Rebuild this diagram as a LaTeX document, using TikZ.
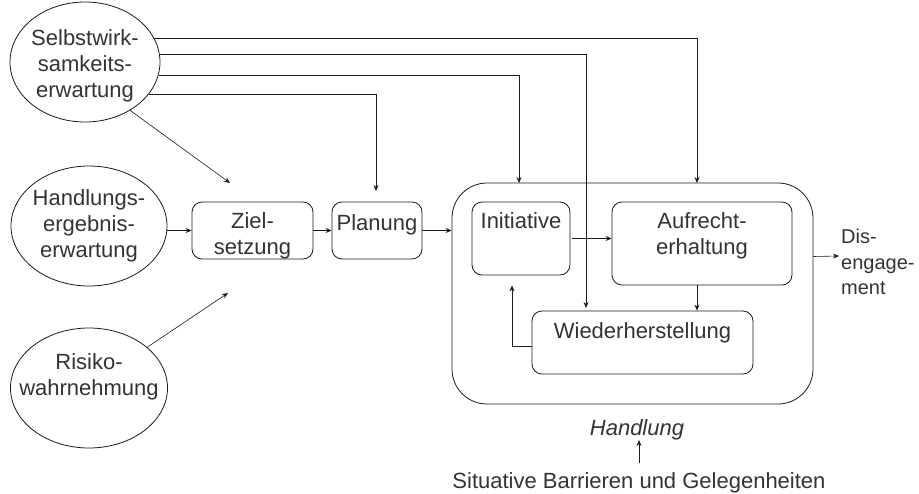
\documentclass[tikz,border=0pt]{standalone}
\usepackage{fontspec}
\setmainfont{Liberation Sans}
\usetikzlibrary{arrows.meta,calc,shapes.geometric}
\definecolor{txtc}{HTML}{333333}
\definecolor{linec}{HTML}{1A1A1A}
\tikzset{
  txt/.style={font=\fontsize{22}{25.8}\selectfont, text=txtc, align=center, inner sep=0pt},
  ell/.style={draw=linec, line width=0.8pt, ellipse, inner sep=0pt},
  rbox/.style={draw=linec, line width=0.8pt, rounded corners=10pt, inner sep=0pt},
  conn/.style={draw=linec, line width=0.6pt, -{Stealth[length=6pt,width=5pt]}},
  toplbl/.style={txt, anchor=north, yshift=-11pt}
}
\begin{document}
\begin{tikzpicture}[x=1pt,y=-1pt]
\useasboundingbox (0,0) rectangle (919,493);

% ellipses
\node[ell, minimum width=150pt, minimum height=120pt,
      label={[txt, yshift=-4pt]center:Selbstwirk-\\samkeits-\\erwartung}] (sw) at (85,62) {};
\node[ell, minimum width=156pt, minimum height=120pt,
      label={[txt]center:Handlungs-\\ergebnis-\\erwartung}] (he) at (89,226) {};
\node[ell, minimum width=157pt, minimum height=120pt,
      label={[txt, yshift=11pt]center:Risiko-\\wahrnehmung}] (ri) at (89,388) {};

% left boxes
\node[rbox, minimum width=121pt, minimum height=57pt,
      label={[txt, yshift=-5pt]center:Ziel-\\setzung}] (ziel) at (252.5,230.5) {};
\node[rbox, minimum width=90pt, minimum height=57pt,
      label={[toplbl, yshift=-2pt]north:Planung}] (plan) at (377,230.5) {};

% outer action box
\node[draw=linec, line width=0.8pt, rounded corners=35pt, inner sep=0pt,
      minimum width=361pt, minimum height=221pt] (act) at (632.5,293.5) {};
\node[txt, font=\fontsize{22}{25.8}\selectfont\itshape] (hand) at (637,430) {Handlung};
\node[txt] (sit) at (639,483) {Situative Barrieren und Gelegenheiten};

% inner boxes
\node[rbox, minimum width=98pt, minimum height=73pt,
      label={[toplbl]north:Initiative}] (init) at (521,238.5) {};
\node[rbox, minimum width=180pt, minimum height=83pt,
      label={[toplbl]north:Aufrecht-\\erhaltung}] (auf) at (702,243.5) {};
\node[rbox, minimum width=221pt, minimum height=63pt,
      label={[toplbl, yshift=-1pt]north:Wiederherstellung}] (wied) at (642.5,342.5) {};

\node[txt, font=\fontsize{20}{25.5}\selectfont, align=left, anchor=west] (dis) at (841,262) {Dis-\\engage-\\ment};

% free arrow ends
\coordinate (a1) at (697,183);
\coordinate (a2) at (586,308);
\coordinate (a3) at (519,183);
\coordinate (a4) at (376,191);
\coordinate (a5) at (230,183);
\coordinate (a6) at (228,293);

% connectors from Selbstwirksamkeit
\draw[conn] (sw.19) -| (a1);
\draw[conn] (sw.6) -| (a2);
\draw[conn] (sw.-10) -| (a3);
\draw[conn] (sw.-27) -| (a4);
\draw[conn] (sw.-47) -- (a5);
\draw[conn] (ri.35) -- (a6);

% main chain
\draw[conn] (he.east |- ziel.west) -- (ziel.west);
\draw[conn] (ziel.east) -- (plan.west);
\draw[conn] (plan.east) -- (act.west |- plan.east);

% inside
\draw[conn] ([xshift=2pt]init.east) -- (auf.west |- init.east);
\draw[conn] ([xshift=-5pt]auf.south) -- ([xshift=-5pt]auf.south |- wied.north);
\draw[conn] ([yshift=-4pt]wied.west) -| ([xshift=-9pt,yshift=-10pt]init.south);

% exits
\draw[conn] ([yshift=37pt]act.east) -- ([yshift=6pt,xshift=-2pt]dis.west);
\draw[conn, shorten <=20pt, shorten >=10pt] (sit.center) -- (hand.center -| sit.center);
\end{tikzpicture}
\end{document}
